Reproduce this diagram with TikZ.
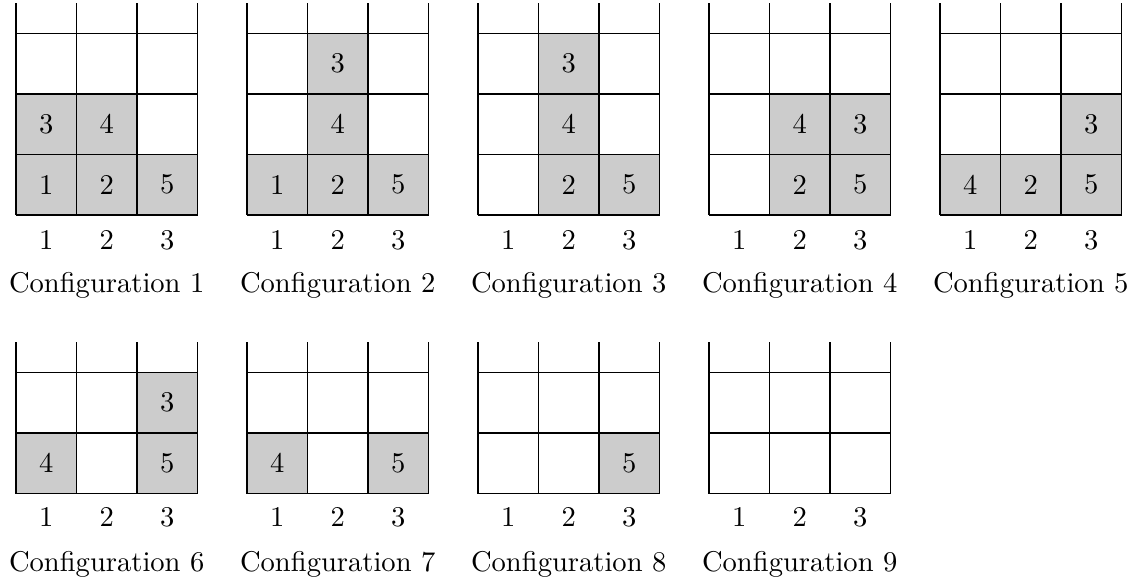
\documentclass[tikz,border=0pt]{standalone}
\tikzset{
  cellfill/.style={fill=gray!40},
  gridline/.style={draw=black, line width=0.4pt},
  cellnum/.style={inner sep=0pt},
  collab/.style={anchor=base, inner sep=0pt},
  conflab/.style={anchor=base, inner sep=0pt}
}
% #1 name, #2 x0, #3 y of bottom line, #4 number of rows, #5 label baseline, #6 caption baseline, #7 caption number
\newcommand\drawgridcfg[7]{%
  \foreach \k in {0,...,#4} {
    \draw[gridline] ({#2},{#3-\k*60.5}) -- ({#2+181.5},{#3-\k*60.5});
  }
  \foreach \k in {0,...,3} {
    \draw[gridline] ({#2+\k*60.5},{#3}) -- ({#2+\k*60.5},{#3-#4*60.5-30.25});
  }
  \foreach \k in {1,2,3} {
    \node[collab] (#1-col\k) at ({#2+(\k-0.5)*60.5},{#5}) {\k};
  }
  \node[conflab] (#1-cap) at ({#2+90.75},{#6}) {Configuration #7};
}
% #1 name, #2 x0, #3 y of bottom line, #4 list col/row/text
\newcommand\fillcells[4]{%
  \foreach \c/\r/\t in {#4} {
    \fill[cellfill] ({#2+(\c-1)*60.5},{#3-(\r-1)*60.5}) rectangle ++(60.5,-60.5);
    \node[cellnum] (#1-c\c r\r) at ({#2+(\c-0.5)*60.5},{#3-(\r-0.5)*60.5}) {\t};
  }
}
\begin{document}
\begin{tikzpicture}[x=0.35pt,y=-0.35pt]
\useasboundingbox (0,0) rectangle (1131,579);
% top row
\fillcells{k1}{16}{215}{1/1/1,2/1/2,3/1/5,1/2/3,2/2/4}
\drawgridcfg{k1}{16}{215}{3}{249}{292}{1}
\fillcells{k2}{247}{215}{1/1/1,2/1/2,3/1/5,2/2/4,2/3/3}
\drawgridcfg{k2}{247}{215}{3}{249}{292}{2}
\fillcells{k3}{478}{215}{2/1/2,3/1/5,2/2/4,2/3/3}
\drawgridcfg{k3}{478}{215}{3}{249}{292}{3}
\fillcells{k4}{709}{215}{2/1/2,3/1/5,2/2/4,3/2/3}
\drawgridcfg{k4}{709}{215}{3}{249}{292}{4}
\fillcells{k5}{940}{215}{1/1/4,2/1/2,3/1/5,3/2/3}
\drawgridcfg{k5}{940}{215}{3}{249}{292}{5}
% bottom row
\fillcells{k6}{16}{493.5}{1/1/4,3/1/5,3/2/3}
\drawgridcfg{k6}{16}{493.5}{2}{526.5}{571}{6}
\fillcells{k7}{247}{493.5}{1/1/4,3/1/5}
\drawgridcfg{k7}{247}{493.5}{2}{526.5}{571}{7}
\fillcells{k8}{478}{493.5}{3/1/5}
\drawgridcfg{k8}{478}{493.5}{2}{526.5}{571}{8}
\drawgridcfg{k9}{709}{493.5}{2}{526.5}{571}{9}
\end{tikzpicture}
\end{document}
